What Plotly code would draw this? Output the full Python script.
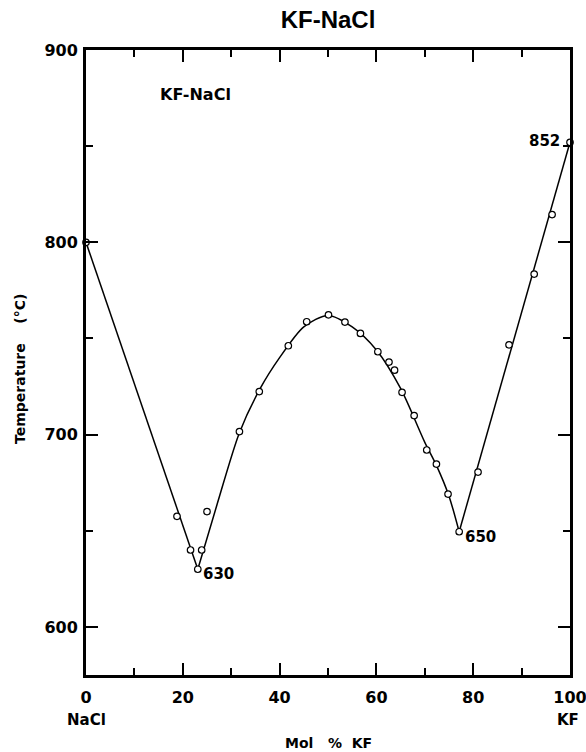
import plotly.graph_objects as go

# measured data points (Mol % KF, Temperature °C)
pts_x = [0, 18.8, 21.6, 23.1, 23.9, 25.0, 31.7, 35.8, 41.8, 45.6, 50.1, 53.5, 56.7,
         60.3, 62.6, 63.75, 65.3, 67.8, 70.4, 72.4, 74.8, 77.1, 81.0, 87.4, 92.6, 96.3, 100]
pts_y = [800, 657.5, 640, 630, 640, 660, 701.6, 722.4, 746.2, 758.7, 762.3, 758.5, 752.6,
         743.1, 737.7, 733.5, 722, 709.9, 692, 684.7, 669.1, 649.5, 680.5, 746.7, 783.5, 814.4, 852]

# liquidus branches as drawn
left_x = [0, 23.1]
left_y = [800, 630]
mid_x = [23.1, 27, 31.7, 36, 40, 45, 50, 55, 60, 65, 70, 72.4, 75, 77.1]
mid_y = [630, 663, 701, 724, 740, 756, 762, 756, 744, 724, 696, 684, 668, 649.5]
right_x = [77.1, 100]
right_y = [649.5, 852]

# labelled invariant points
lab_text = ["630", "650", "852"]
lab_x = [23.1, 77.1, 100]
lab_y = [630, 649.5, 852]

x_ticks = [0, 20, 40, 60, 80, 100]
y_ticks = [600, 700, 800, 900]

FONT = "DejaVu Sans"
fig = go.Figure()
line_style = dict(color="black", width=1.5)
fig.add_trace(go.Scatter(x=left_x, y=left_y, mode="lines", line=line_style, hoverinfo="skip"))
fig.add_trace(go.Scatter(x=mid_x, y=mid_y, mode="lines", line=dict(color="black", width=1.5, shape="spline", smoothing=0.8), hoverinfo="skip"))
fig.add_trace(go.Scatter(x=right_x, y=right_y, mode="lines", line=line_style, hoverinfo="skip"))
fig.add_trace(go.Scatter(x=pts_x, y=pts_y, mode="markers",
                         marker=dict(symbol="circle", size=6.5, color="white",
                                     line=dict(color="black", width=1.2)),
                         cliponaxis=False))

# eutectic / melting point labels
offsets = [(21, -5), (21, -5), (-26, 1)]
for t, x, y, (dx, dy) in zip(lab_text, lab_x, lab_y, offsets):
    fig.add_annotation(x=x, y=y, text=t, showarrow=False, xshift=dx, yshift=dy,
                       font=dict(family=FONT, size=15, color="black", weight="bold"))

fig.add_annotation(x=22.6, y=877, text="KF-NaCl", showarrow=False,
                   font=dict(family=FONT, size=16, color="black", weight="bold"))
fig.add_annotation(x=0, y=-0.072, xref="x", yref="paper", text="NaCl", showarrow=False,
                   yanchor="middle",
                   font=dict(family=FONT, size=15, color="black", weight="bold"))
fig.add_annotation(x=99.5, y=-0.072, xref="x", yref="paper", text="KF", showarrow=False,
                   yanchor="middle",
                   font=dict(family=FONT, size=15, color="black", weight="bold"))
fig.add_annotation(x=0.5, y=-0.109, xref="paper", yref="paper", text="Mol&nbsp;&nbsp;&nbsp;%&nbsp;&nbsp;KF",
                   showarrow=False, yanchor="middle", xanchor="center",
                   font=dict(family=FONT, size=14, color="black", weight="bold"))
fig.add_annotation(x=-0.136, y=0.49, xref="paper", yref="paper",
                   text="Temperature&nbsp;&nbsp;&nbsp;&nbsp;(°C)", textangle=-90, showarrow=False,
                   xanchor="center", yanchor="middle",
                   font=dict(family=FONT, size=14, color="black", weight="bold"))

axis_common = dict(showgrid=False, zeroline=False, showline=True, linecolor="black",
                   linewidth=3, mirror="ticks", ticks="inside", ticklen=12, tickwidth=1.5,
                   tickcolor="black", ticklabeloverflow="allow", automargin=False,
                   tickfont=dict(family=FONT, size=16, color="black", weight="bold"))
fig.update_xaxes(range=[0, 100], tickvals=x_ticks, ticktext=[str(v) for v in x_ticks],
                 ticklabelstandoff=6,
                 minor=dict(dtick=10, tick0=0, ticks="inside", ticklen=7, tickwidth=1.5, tickcolor="black"),
                 **axis_common)
fig.update_yaxes(range=[575, 900], tickvals=y_ticks, ticktext=[str(v) for v in y_ticks],
                 ticklabelstandoff=2,
                 minor=dict(dtick=50, tick0=600, ticks="inside", ticklen=7, tickwidth=1.5, tickcolor="black"),
                 **axis_common)

fig.update_layout(
    width=586, height=752,
    margin=dict(l=86, r=16, t=50, b=77, autoexpand=False),
    paper_bgcolor="white", plot_bgcolor="white",
    showlegend=False,
    title=dict(text="<b>KF-NaCl</b>", x=0.5, xref="paper", y=1 - 20 / 752, yanchor="middle",
               font=dict(family="Liberation Sans", size=24, color="black")),
)

fig.write_html("out.html", config={"displayModeBar": False},
               post_script="document.body.style.margin='0';document.body.style.padding='0';")
